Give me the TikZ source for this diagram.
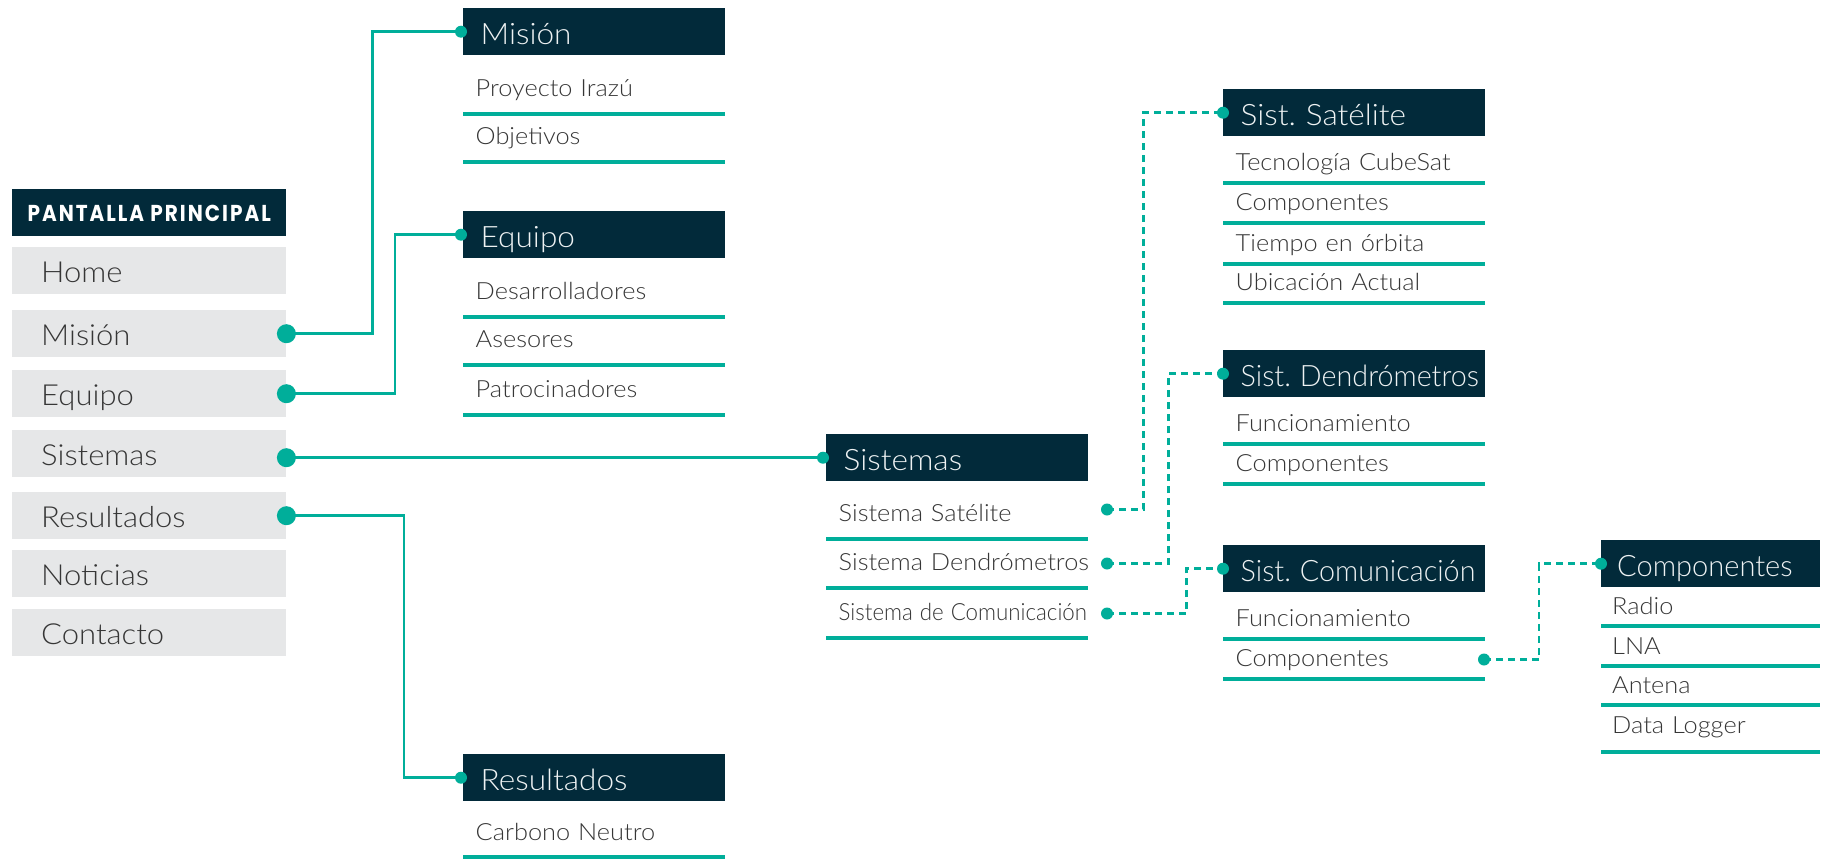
\documentclass[tikz,border=0pt]{standalone}
\usepackage{fontspec}
\IfFontExistsTF{Lato Light}{\setmainfont{Lato Light}[FakeStretch=1.07]}{\setmainfont{Lato}[FakeStretch=1.07]}
\newfontfamily\titlefont{Poppins}[LetterSpace=10]
\usetikzlibrary{calc,backgrounds}
\definecolor{navy}{HTML}{022A3A}
\definecolor{accent}{HTML}{00AE9A}
\definecolor{menugray}{HTML}{E6E7E8}
\definecolor{txt}{HTML}{363636}
\definecolor{headtxt}{HTML}{EEF2F3}
\frenchspacing
\newcommand{\squeeze}[2][0.91]{\scalebox{#1}[1]{#2}}
\begin{document}
\begin{tikzpicture}[x=1pt,y=-1pt,
  nowrap/.style={execute at begin node={\leavevmode\hbox\bgroup}, execute at end node={\egroup}},
  titlebox/.style={fill=navy, text=white, minimum width=274pt, minimum height=47pt,
    inner sep=0pt, text height=16.7pt, text depth=0pt, anchor=north west,
    font=\titlefont\bfseries\fontsize{23pt}{26pt}\selectfont},
  menubox/.style={fill=menugray, text=txt, minimum width=274pt, minimum height=47pt,
    inner xsep=29pt, inner ysep=0pt, text width=216pt, align=left,
    text height=35pt, text depth=12pt, anchor=north west, nowrap,
    font=\fontsize{29pt}{32pt}\selectfont},
  headbox/.style={fill=navy, text=headtxt, minimum width=#1, minimum height=47pt,
    inner xsep=17.5pt, inner ysep=0pt, text width=#1-35pt, align=left,
    text height=36pt, text depth=11pt, anchor=north west, nowrap,
    font=\fontsize{29.5pt}{33pt}\selectfont},
  headbox/.default=262pt,
  item/.style={text=txt, minimum width=#1, inner xsep=12.5pt, inner ysep=0pt,
    text width=#1-25pt, align=left, text height=20pt, anchor=south west, nowrap,
    font=\fontsize{23.7pt}{28pt}\selectfont,
    append after command={(\tikzlastnode.south west) edge[draw=accent, line width=4pt] (\tikzlastnode.south east)}},
  item/.default=262pt,
  wide/.style={item, text depth=17.5pt},
  tight/.style={item, text depth=12pt},
  bigdot/.style={circle, fill=accent, inner sep=0pt, minimum size=19pt},
  smalldot/.style={circle, fill=accent, inner sep=0pt, minimum size=12pt},
  link/.style={draw=accent, line width=2.5pt},
  dlink/.style={link, dash pattern=on 7pt off 5pt}
]
\useasboundingbox (0,0) rectangle (1830,859);

% main menu
\node[titlebox] (title) at (12,189) {\scalebox{0.87}[1]{PANTALLA PRINCIPAL}};
\node[menubox] (mhome) at (12,247) {Home};
\node[menubox] (mmis)  at (12,310) {Misión};
\node[menubox] (meq)   at (12,370) {Equipo};
\node[menubox] (msis)  at (12,430) {Sistemas};
\node[menubox] (mres)  at (12,492) {Resultados};
\node[menubox] (mnot)  at (12,550) {Noticias};
\node[menubox] (mcon)  at (12,609) {Contacto};

% Misión
\node[headbox] (hmis) at (463,8) {Misión};
\node[wide] (mis1) at (463,114) {Proyecto Irazú};
\node[wide] (mis2) at (463,162) {Objetivos};

% Equipo
\node[headbox] (heq) at (463,211) {Equipo};
\node[wide] (eq1) at (463,317) {Desarrolladores};
\node[wide] (eq2) at (463,365) {Asesores};
\node[wide] (eq3) at (463,415) {Patrocinadores};

% Resultados
\node[headbox] (hres) at (463,754) {Resultados};
\node[wide, text depth=16pt] (res1) at (463,857) {Carbono Neutro};

% Sistemas
\node[headbox] (hsis) at (826,434) {Sistemas};
\node[wide] (sis1) at (826,539) {Sistema Satélite};
\node[wide] (sis2) at (826,588) {Sistema Dendrómetros};
\node[wide] (sis3) at (826,638) {\squeeze[0.88]{Sistema de Comunicación}};

% Sist. Satélite
\node[headbox] (hsat) at (1223,89) {Sist. Satélite};
\node[tight] (sat1) at (1223,183) {Tecnología CubeSat};
\node[tight] (sat2) at (1223,223) {Componentes};
\node[tight] (sat3) at (1223,264) {Tiempo en órbita};
\node[tight] (sat4) at (1223,303) {Ubicación Actual};

% Sist. Dendrómetros
\node[headbox] (hden) at (1223,350) {\squeeze{Sist. Dendrómetros}};
\node[tight] (den1) at (1223,444) {Funcionamiento};
\node[tight] (den2) at (1223,484) {Componentes};

% Sist. Comunicación
\node[headbox] (hcom) at (1223,545) {\squeeze{Sist. Comunicación}};
\node[tight] (com1) at (1223,639) {Funcionamiento};
\node[tight] (com2) at (1223,679) {Componentes};

% Componentes
\node[headbox=219pt, inner xsep=16pt, text width=187pt] (hcmp) at (1601,540) {\squeeze[0.92]{Componentes}};
\node[item=219pt, inner xsep=11pt, text width=197pt, text depth=11pt] (cmp1) at (1601,626) {Radio};
\node[item=219pt, inner xsep=11pt, text width=197pt, text depth=11pt] (cmp2) at (1601,666) {LNA};
\node[item=219pt, inner xsep=11pt, text width=197pt, text depth=11pt] (cmp3) at (1601,705) {Antena};
\node[item=219pt, inner xsep=11pt, text width=197pt, text depth=18pt] (cmp4) at (1601,752) {Data Logger};

% connection dots
\node[bigdot] (dmis) at (mmis.east) {};
\node[bigdot] (deq)  at (meq.east) {};
\node[bigdot] (dsis) at (msis.east |- hsis.west) {};
\node[bigdot] (dres) at (mres.east) {};
\node[smalldot] (hdmis) at ($(hmis.west)+(-2,0)$) {};
\node[smalldot] (hdeq)  at ($(heq.west)+(-2,0)$) {};
\node[smalldot] (hdres) at ($(hres.west)+(-2,0)$) {};
\node[smalldot] (hdsis) at ($(hsis.west)+(-3,0)$) {};
\node[smalldot] (hdsat) at (hsat.west) {};
\node[smalldot] (hdden) at (hden.west) {};
\node[smalldot] (hdcom) at (hcom.west) {};
\node[smalldot] (hdcmp) at (hcmp.west) {};
\node[smalldot] (sd1) at (1107,509.5) {};
\node[smalldot] (sd2) at (1107,563.5) {};
\node[smalldot] (sd3) at (1107,613.5) {};
\node[smalldot] (cd)  at (1484,659.5) {};

% connectors, behind the dots
\begin{scope}[on background layer]
\fill[white] (0,0) rectangle (1830,859);
\draw[link] (dmis.center) -- ++(86,0) |- (hdmis.center);
\draw[link] (deq.center) -- ++(108.5,0) |- (hdeq.center);
\draw[link] (dsis.center) -- (hdsis.center);
\draw[link] (dres.center) -- ++(117.5,0) |- (hdres.center);
\draw[dlink] (sd1.center) -- ++(36.3,0) |- (hdsat.center);
\draw[dlink] (sd2.center) -- ++(61.7,0) |- (hdden.center);
\draw[dlink] (sd3.center) -- ++(79.7,0) |- (hdcom.center);
\draw[dlink] (cd.center) -- ++(55,0) |- (hdcmp.center);
\end{scope}
\end{tikzpicture}
\end{document}
